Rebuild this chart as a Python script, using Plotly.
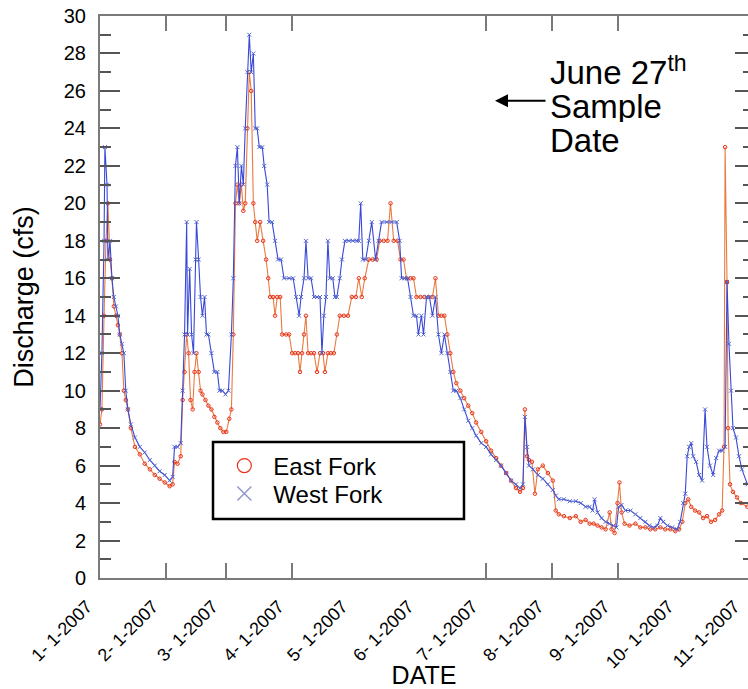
import plotly.graph_objects as go
import pandas as pd

# ---- data (day offsets from 2007-01-01, discharge in cfs) ----
west_days = [0, 0.9, 1.9, 2.3, 3.3, 3.7, 4.7, 5.6, 6.5, 7.5, 8.4, 9.3, 10.3, 11.2, 12.1, 13.1, 14.5, 16.4, 18.7, 21.0,
             23.4, 25.7, 28.0, 30.4, 32.7, 34.1, 35.0, 36.4, 37.9, 38.8, 39.7, 40.7, 41.1, 42.1, 43.0, 43.9, 44.9, 45.3, 46.3, 47.2,
             48.1, 49.1, 50.0, 50.9, 52.3, 53.7, 55.1, 56.1, 57.5, 58.9, 60.3, 61.7, 62.6, 63.6, 64.5, 65.4, 66.4, 67.3, 68.2, 69.2,
             70.1, 71.0, 72.0, 72.9, 73.8, 74.8, 76.2, 77.1, 78.5, 79.4, 80.8, 82.2, 83.6, 85.0, 86.4, 88.8, 90.7, 92.1, 93.5, 94.4,
             95.8, 96.7, 97.7, 99.1, 100.5, 101.9, 103.3, 104.2, 105.1, 106.1, 107.0, 107.9, 109.3, 110.3, 111.2, 112.6, 113.6, 115.0, 116.8, 118.7,
             120.6, 121.5, 122.4, 123.4, 124.8, 126.2, 127.6, 129.4, 130.8, 132.2, 134.6, 136.9, 139.3, 140.7, 141.6, 143.0, 144.4, 145.8, 147.2, 148.6,
             149.5, 150.9, 151.9, 153.3, 154.7, 156.1, 157.5, 158.9, 160.3, 161.7, 163.1, 164.5, 165.9, 167.3, 169.2, 171.0, 172.9, 174.8, 176.6, 179.0,
             181.3, 183.6, 186.0, 188.3, 190.7, 193.0, 195.3, 197.2, 198.6, 199.5, 200.5, 201.4, 203.3, 205.6, 207.9, 210.3, 212.6, 214.0, 215.4, 217.8,
             220.6, 223.4, 225.7, 228.0, 229.9, 231.3, 232.2, 233.6, 235.5, 237.4, 239.3, 241.1, 242.5, 243.5, 244.9, 246.7, 249.1, 251.4, 253.7, 256.1,
             257.9, 259.8, 261.7, 263.1, 264.5, 266.4, 268.7, 271.0, 272.4, 273.8, 274.8, 275.7, 276.6, 277.6, 278.5, 279.9, 281.3, 282.7, 284.1, 285.0,
             286.4, 287.9, 289.3, 290.7, 292.1, 293.5, 294.4, 295.3, 296.3, 297.2, 298.6, 300.0, 301.4, 304.0]
west_cfs = [9.0, 12, 18, 23, 21, 17, 18, 16, 15, 14.5, 14, 13, 12.5, 12, 10, 9, 8.2, 7.5, 7, 6.7,
            6.3, 6, 5.7, 5.5, 5.2, 5.4, 7, 7, 7.2, 10, 13, 19, 13, 16.5, 13, 12, 17, 19, 17, 15,
            14, 15, 13, 13, 12, 11, 11, 10, 10, 9.8, 10, 13, 16, 22, 23, 20, 22, 21, 24, 27,
            29, 27, 28, 24, 24, 23, 23, 22, 21, 19, 19, 18, 17, 17, 16, 16, 16, 15, 14, 15,
            16, 18, 16, 16, 15, 15, 15, 12, 14, 15, 18, 16, 16, 15, 15, 16, 17, 18, 18, 18,
            18, 18, 20, 17, 17, 18, 19, 17, 18, 19, 19, 19, 19, 18, 16, 16, 16, 15, 14, 14,
            13, 14, 13, 15, 15, 14, 15, 13, 12, 13, 12, 11, 10, 10, 9.6, 9, 8.4, 8, 7.6, 7.2,
            7, 6.6, 6.3, 6, 5.6, 5.2, 5, 4.8, 5, 8.6, 7, 6, 5.8, 5.5, 5.3, 5, 4.7, 4.4, 4.2, 4.2,
            4.1, 4.1, 4.0, 3.8, 3.8, 3.6, 4.2, 3.5, 3.2, 3.0, 2.9, 2.8, 2.7, 3.8, 3.9, 3.6, 3.6, 3.4, 3.2, 3.0,
            2.8, 2.7, 2.8, 3.2, 3.0, 2.8, 2.7, 2.6, 3.0, 4.0, 4.5, 6.5, 7.0, 7.2, 6.5, 6.2, 5.5, 5.2, 9.0, 7,
            6.0, 5.5, 6.4, 6.8, 6.8, 7.0, 15.8, 12.5, 10, 8, 7.5, 6.5, 5.8, 5.0]

east_days = [0, 0.9, 1.9, 2.8, 3.7, 4.7, 5.6, 6.5, 7.5, 8.4, 9.3, 10.3, 11.2, 12.1, 13.1, 14.5, 16.4, 18.7, 21.0, 23.4,
             25.7, 28.0, 30.4, 32.7, 34.1, 35.0, 36.4, 37.9, 38.8, 39.7, 40.7, 41.6, 42.5, 43.5, 44.4, 45.3, 46.3, 47.2, 48.1, 49.5,
             50.9, 52.3, 53.7, 55.1, 56.5, 57.9, 59.3, 60.7, 61.7, 62.6, 63.6, 64.5, 65.4, 66.4, 67.3, 68.2, 69.2, 70.1, 71.0, 72.0,
             72.9, 73.8, 75.2, 76.6, 78.0, 79.0, 79.9, 81.3, 82.2, 83.2, 84.6, 85.5, 87.4, 88.8, 90.2, 91.6, 93.0, 93.9, 94.9, 95.8,
             96.7, 97.7, 99.1, 100.5, 101.9, 103.3, 104.7, 105.6, 107.0, 108.4, 109.8, 111.2, 112.6, 114.5, 116.4, 118.2, 120.1, 121.5, 122.9, 124.3,
             126.2, 128.0, 129.9, 131.3, 133.2, 135.0, 136.4, 137.9, 139.7, 141.1, 142.5, 143.9, 145.8, 147.2, 148.6, 150.5, 152.3, 154.2, 156.1, 157.5,
             158.9, 160.3, 161.7, 163.1, 164.5, 165.9, 167.3, 169.2, 171.0, 172.9, 174.8, 176.6, 179.0, 181.3, 183.6, 186.0, 188.3, 190.7, 193.0, 195.3,
             197.2, 198.6, 199.5, 200.5, 201.4, 202.8, 204.2, 205.6, 207.9, 210.3, 212.6, 214.0, 215.4, 217.8, 220.6, 223.4, 225.7, 228.0, 229.9, 231.8,
             233.6, 235.5, 237.4, 239.3, 240.2, 241.6, 243.0, 243.9, 244.9, 246.3, 248.6, 251.4, 253.7, 256.1, 258.4, 260.7, 263.1, 265.4, 267.8, 270.1,
             271.9, 273.4, 274.8, 276.2, 277.6, 279.4, 281.3, 283.2, 285.0, 286.9, 288.8, 290.7, 292.1, 293.0, 293.5, 294.4, 294.9, 295.8, 297.2, 299.1,
             300.9, 304.0]
east_cfs = [8.2, 9, 14, 18, 20, 17, 16, 14.5, 14, 13.5, 13, 12, 10, 9.5, 9, 8, 7, 6.6, 6.1, 5.8,
            5.5, 5.3, 5.1, 4.9, 5.0, 6.2, 6.1, 6.5, 9.5, 11, 13, 12, 9.5, 9.0, 11, 12, 11, 10, 9.8, 9.5,
            9.2, 9, 8.6, 8.3, 8, 7.8, 7.8, 8.5, 9, 13, 20, 21, 20, 21, 19.6, 20, 24, 27, 26, 20,
            19, 18, 19, 18, 17, 16, 15, 15, 14, 15, 15, 13, 13, 13, 12, 12, 12, 11, 12, 13,
            14, 12, 12, 12, 11, 12, 12, 11, 12, 12, 12, 13, 14, 14, 14, 15, 15, 16, 15, 16,
            17, 17, 17, 18, 18, 18, 20, 18, 18, 17, 17, 16, 16, 16, 15, 15, 15, 15, 15, 16,
            14, 14, 14, 13, 12, 11, 10.4, 10, 9.6, 9.2, 8.8, 8.3, 7.8, 7.3, 6.8, 6.4, 6.0, 5.6, 5.2, 4.8,
            4.6, 4.8, 9.0, 6.5, 6.3, 6.2, 4.5, 5.8, 6.0, 5.6, 5.2, 3.6, 3.4, 3.3, 3.2, 3.3, 3.0, 3.1, 2.9, 2.9,
            2.8, 2.7, 2.6, 3.5, 2.6, 2.4, 4.0, 5.1, 3.5, 2.9, 2.8, 2.9, 2.7, 2.7, 2.6, 2.6, 2.7, 2.6, 2.6, 2.5,
            2.6, 3.0, 4.0, 4.2, 3.8, 3.6, 3.5, 3.2, 3.3, 3.0, 3.1, 3.4, 3.6, 7.0, 23, 15.8, 8, 5.0, 4.6, 4.3,
            4.0, 3.8]

month_ticks = ["2007-01-01", "2007-02-01", "2007-03-01", "2007-04-01", "2007-05-01", "2007-06-01",
               "2007-07-01", "2007-08-01", "2007-09-01", "2007-10-01", "2007-11-01"]
month_labels = ["1- 1-2007", "2- 1-2007", "3- 1-2007", "4- 1-2007", "5- 1-2007", "6- 1-2007",
                "7- 1-2007", "8- 1-2007", "9- 1-2007", "10- 1-2007", "11- 1-2007"]
marked_ticks = ["2007-02-01", "2007-03-01", "2007-04-01", "2007-07-01", "2007-08-01", "2007-09-01"]
note_lines = ["June 27<sup>th</sup>", "Sample", "Date"]

start = pd.Timestamp("2007-01-01")
west_dates = [start + pd.Timedelta(days=d) for d in west_days]
east_dates = [start + pd.Timedelta(days=d) for d in east_days]

FONT = "Arial, Liberation Sans, sans-serif"
EAST_LINE = "#ea7a40"
EAST_MK = "#e8301a"
WEST_LINE = "#3848d8"
WEST_MK = "#5566cc"
X_END = "2007-11-01 06:00"

fig = go.Figure()
fig.add_trace(go.Scatter(x=east_dates, y=east_cfs, mode="lines+markers", name="East Fork", showlegend=False,
                         line=dict(color=EAST_LINE, width=1.1),
                         marker=dict(symbol="circle-open", size=3.5, color=EAST_MK, line=dict(width=1))))
fig.add_trace(go.Scatter(x=west_dates, y=west_cfs, mode="lines+markers", name="West Fork", showlegend=False,
                         line=dict(color=WEST_LINE, width=1.1),
                         marker=dict(symbol="x-thin-open", size=4, color=WEST_MK, line=dict(width=1))))
# legend entries (markers only), one legend each so their spacing can match
fig.add_trace(go.Scatter(x=[None], y=[None], mode="markers", name="East Fork", xaxis="x2", yaxis="y2",
                         legend="legend",
                         marker=dict(symbol="circle-open", size=14, color=EAST_MK, line=dict(width=1.2))))
fig.add_trace(go.Scatter(x=[None], y=[None], mode="markers", name="West Fork", xaxis="x2", yaxis="y2",
                         legend="legend2",
                         marker=dict(symbol="x-thin-open", size=14, color="#9098cc", line=dict(width=1.5))))

AX = "#7a7a7a"
LEG = dict(xanchor="left", yanchor="middle", borderwidth=0, bgcolor="rgba(0,0,0,0)",
           font=dict(size=24, family=FONT), itemwidth=48)
fig.update_layout(
    width=748, height=689,
    margin=dict(l=100, r=0, t=16, b=111),
    paper_bgcolor="white", plot_bgcolor="white",
    font=dict(family=FONT, color="black"),
    xaxis=dict(type="date", range=["2007-01-01", X_END],
               tickmode="array", tickvals=month_ticks, ticktext=month_labels,
               tickangle=-45, tickfont=dict(size=18), ticks="",
               ticklabelstandoff=9, ticklabelshift=-13, ticklabeloverflow="allow",
               showline=True, linecolor=AX, linewidth=2, mirror=True,
               showgrid=False, zeroline=False,
               title=dict(text="DATE", font=dict(size=25), standoff=0)),
    xaxis2=dict(type="date", range=["2007-01-01", X_END], overlaying="x", anchor="y",
                tickmode="array", tickvals=marked_ticks, ticks="inside", ticklen=15, tickwidth=1.5,
                tickcolor=AX, mirror="ticks", showline=False, showticklabels=False,
                showgrid=False, zeroline=False),
    yaxis=dict(range=[0, 30], tick0=0, dtick=2, ticks="inside", ticklen=20, tickwidth=1.5, tickcolor="#555",
               minor=dict(tick0=0, dtick=1, ticks="inside", ticklen=11, tickwidth=1.5, tickcolor="#555"),
               showline=True, linecolor=AX, linewidth=2, mirror=False,
               showgrid=False, zeroline=False, tickfont=dict(size=20), ticklabelstandoff=8,
               title=dict(text="Discharge (cfs)", font=dict(size=27), standoff=22)),
    yaxis2=dict(range=[0, 30], overlaying="y", side="right", anchor="x", tick0=0, dtick=2,
                ticks="inside", ticklen=13, tickwidth=1.5, tickcolor="#555",
                minor=dict(tick0=0, dtick=1, ticks="inside", ticklen=5, tickwidth=1.5, tickcolor="#555"),
                showline=False, showticklabels=False, showgrid=False, zeroline=False),
    legend=dict(x=0.178, y=0.1993, **LEG),
    legend2=dict(x=0.178, y=0.1495, **LEG),
    showlegend=True,
    shapes=[dict(type="rect", xref="paper", yref="paper", x0=0.1744, x1=0.5617, y0=0.105, y1=0.242,
                 line=dict(color="black", width=2.5), fillcolor="white", layer="above")],
)

for txt, yy in zip(note_lines, [0.9022, 0.8381, 0.7776]):
    fig.add_annotation(xref="paper", yref="paper", x=0.693, y=yy, xanchor="left", yanchor="middle",
                       text=txt, showarrow=False, align="left", height=31, borderpad=0,
                       font=dict(size=33, family=FONT, color="black"))
fig.add_annotation(xref="paper", yref="paper", x=0.6096, y=0.849, text="", showarrow=True,
                   ax=52, ay=0, arrowhead=2, arrowsize=1.3, arrowwidth=2, arrowcolor="black")

fig.write_html("out.html")
